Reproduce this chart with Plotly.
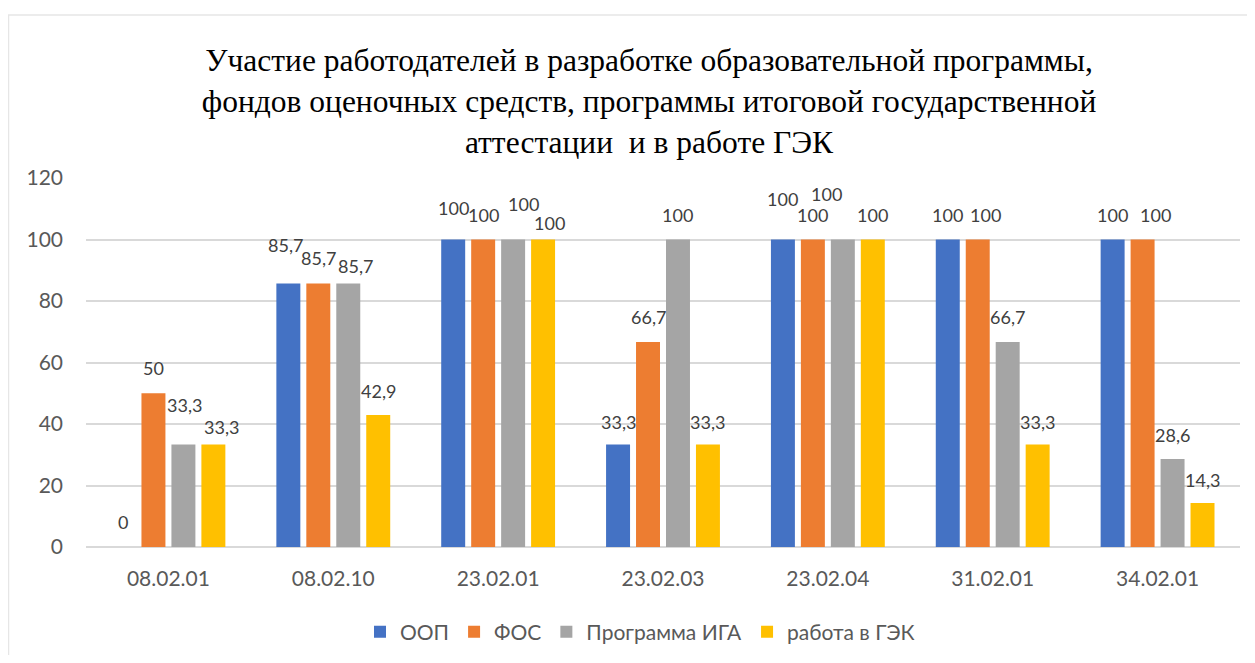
import plotly.graph_objects as go

categories = ["08.02.01", "08.02.10", "23.02.01", "23.02.03", "23.02.04", "31.02.01", "34.02.01"]
series_names = ["ООП", "ФОС", "Программа ИГА", "работа в ГЭК"]
oop = [0, 85.7, 100, 33.3, 100, 100, 100]
fos = [50, 85.7, 100, 66.7, 100, 100, 100]
iga = [33.3, 85.7, 100, 100, 100, 66.7, 28.6]
gek = [33.3, 42.9, 100, 33.3, 100, 33.3, 14.3]
y_ticks = [0, 20, 40, 60, 80, 100, 120]
title_text = ("Участие работодателей в разработке образовательной программы,<br>"
              "фондов оценочных средств, программы итоговой государственной<br>"
              "аттестации  и в работе ГЭК")

colors = ["#4472C4", "#ED7D31", "#A5A5A5", "#FFC000"]
# label offsets (px) relative to the bar top centre: (dx, dy above bar top)
label_offsets = [
    [(0, 25), (-3, 38), (0, 32), (0, 23), (0, 41), (0, 25), (0, 25)],
    [(0, 25), (0, 25), (0, 25), (0, 25), (0, 25), (8, 25), (13, 25)],
    [(1, 40), (7, 17), (10, 36), (0, 25), (-16, 46), (0, 25), (0, 24)],
    [(8, 18), (0, 24), (6, 17), (0, 23), (0, 25), (0, 23), (0, 23)],
]

all_series = [oop, fos, iga, gek]

fig = go.Figure()
for name, vals, col in zip(series_names, all_series, colors):
    fig.add_trace(go.Bar(x=categories, y=vals, name=name, marker=dict(color=col, line=dict(width=0))))

# page has an 8px body margin; figure coordinates = screenshot coordinates - 8
OFF = 8
W, H = 1239, 647
ml, mt = 86 - OFF, 178 - OFF
pw = 1240 - 86
ph = 547 - 178
mr = W - ml - pw
mb = H - mt - ph
cat_w = pw / len(categories)
bargap = 0.273
slot = cat_w * (1 - bargap) / len(series_names)

annotations = []
for si, vals in enumerate(all_series):
    for ci, v in enumerate(vals):
        dx, dy = label_offsets[si][ci]
        annotations.append(dict(
            x=categories[ci], y=v, xref="x", yref="y",
            text=f"{v:g}".replace(".", ","),
            showarrow=False, xanchor="center", yanchor="middle",
            xshift=(si - 1.5) * slot + dx, yshift=dy,
            font=dict(family="Lato", size=18, color="#404040"),
        ))

def px_to_paper_x(px):
    return (px - OFF - ml) / pw
def px_to_paper_y(py):
    return (mt + ph - (py - OFF)) / ph

fig.update_layout(
    width=W, height=H,
    margin=dict(l=ml, r=mr, t=mt, b=mb, autoexpand=False),
    paper_bgcolor="white", plot_bgcolor="white",
    barmode="group", bargap=bargap, bargroupgap=0.2,
    title=dict(text=title_text, x=(649 - OFF) / W, xanchor="center",
               yref="container", y=1 - (62 - OFF + 9) / H, yanchor="middle",
               font=dict(family="Liberation Serif", size=31.5, color="#000000")),
    showlegend=True,
    legend=dict(orientation="h", x=px_to_paper_x(640), xanchor="center", y=px_to_paper_y(632), yanchor="middle",
                font=dict(family="Lato", size=21, color="#595959"), itemwidth=30, traceorder="normal",
                bgcolor="rgba(0,0,0,0)"),
    annotations=annotations,
    shapes=[dict(type="rect", xref="paper", yref="paper",
                 x0=px_to_paper_x(8.5), x1=px_to_paper_x(1249), y0=px_to_paper_y(662), y1=px_to_paper_y(15),
                 line=dict(color="#e6e6e6", width=1.5), fillcolor="rgba(0,0,0,0)", layer="below")],
)
fig.update_yaxes(range=[0, 120], tickvals=y_ticks, showgrid=True, gridcolor="#d9d9d9", gridwidth=2,
                 zeroline=True, zerolinecolor="#d9d9d9", zerolinewidth=2, showline=False, automargin=False,
                 tickfont=dict(family="Lato", size=21, color="#595959"), ticklabelstandoff=22, fixedrange=True)
fig.update_xaxes(showgrid=False, showline=False, automargin=False,
                 tickfont=dict(family="Lato", size=21, color="#595959"),
                 ticklabelstandoff=17, fixedrange=True)

fig.write_html("out.html")
